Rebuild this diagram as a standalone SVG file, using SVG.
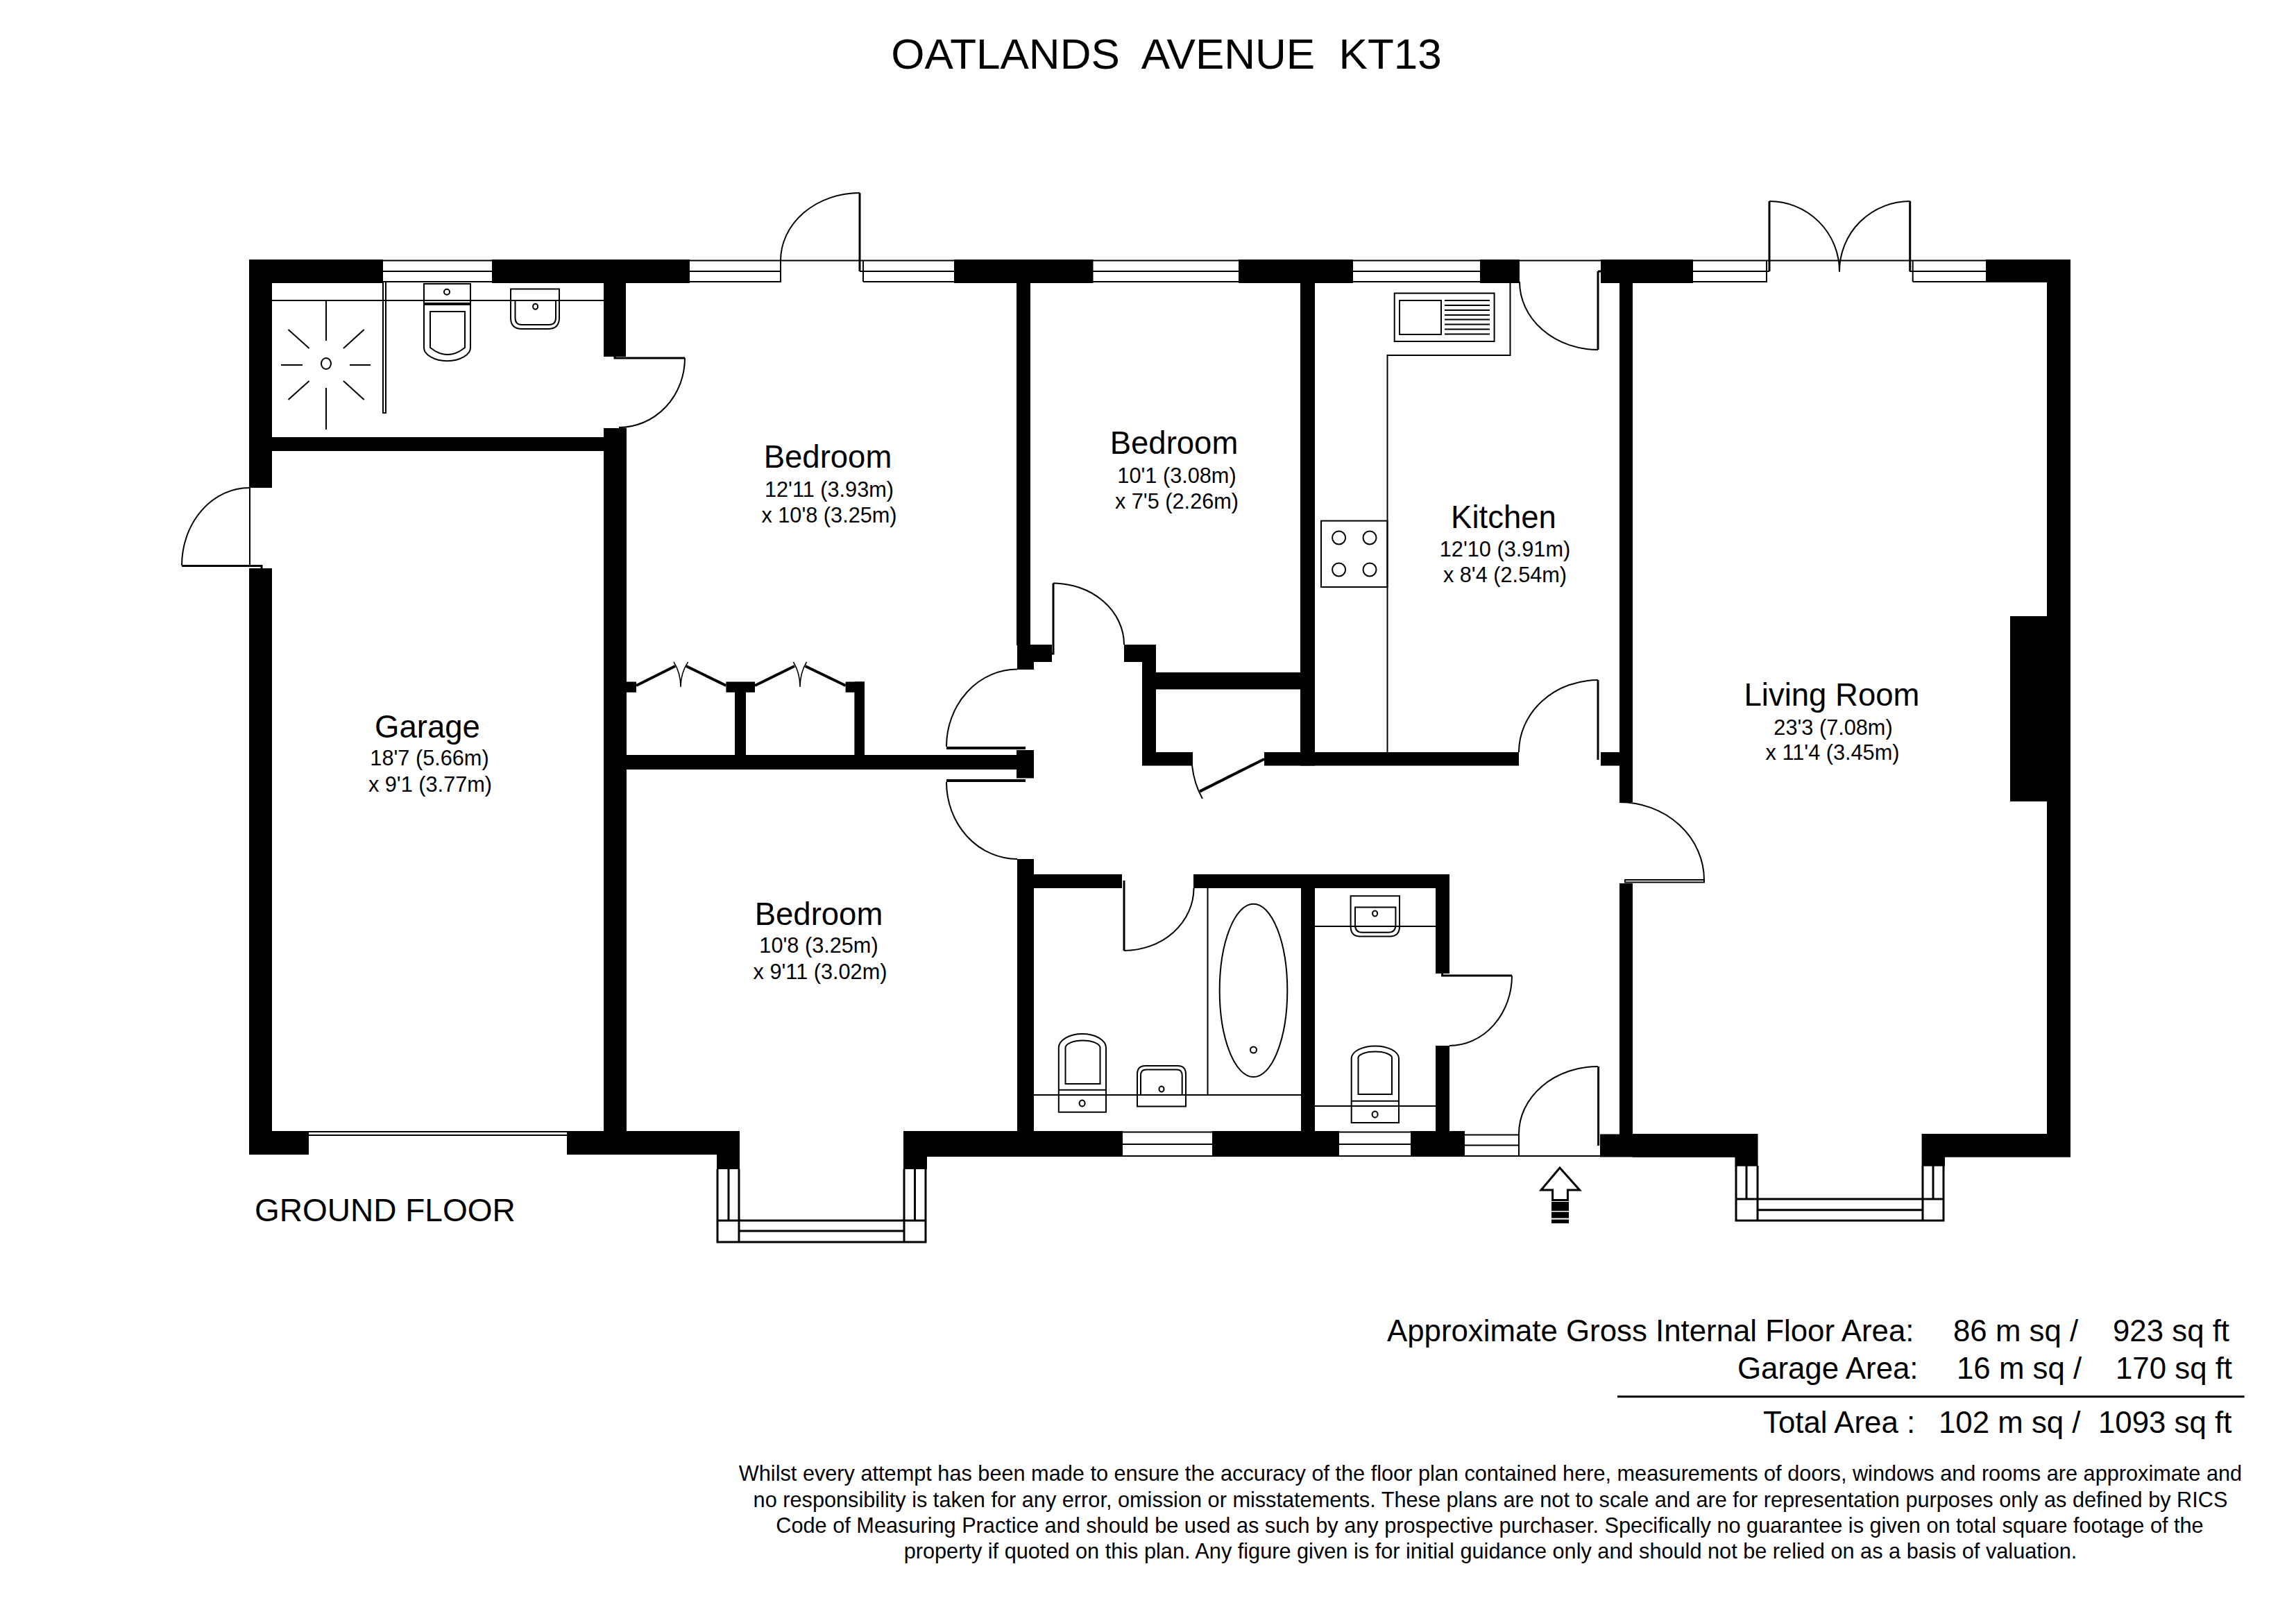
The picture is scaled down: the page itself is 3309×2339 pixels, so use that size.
<svg xmlns="http://www.w3.org/2000/svg" width="3309" height="2339" viewBox="0 0 3309 2339">
<style>
text{font-family:"Liberation Sans",Arial,sans-serif;fill:#000;white-space:pre}
.t{font-size:62px;text-anchor:middle}
.n{font-size:45.500px;text-anchor:middle}
.d{font-size:30.700px;text-anchor:middle}
.a{font-size:43.800px;text-anchor:start}
.g{font-size:46px;text-anchor:start}
.f{font-size:30.700px;text-anchor:middle}
.w{fill:#000}
.l,.m,.k,.h{fill:none;stroke:#000}
.l{stroke-width:2}
.m{stroke-width:3}
.k{stroke-width:4}
.h{stroke-width:1.5}
</style>
<rect width="3309" height="2339" fill="#fff"/>
<g id="walls" class="w">
<rect x="359" y="374" width="193" height="34"/>
<rect x="709" y="374" width="285" height="34"/>
<rect x="1375" y="374" width="200.500" height="34"/>
<rect x="1785" y="374" width="165" height="34"/>
<rect x="2133" y="374" width="57" height="34"/>
<rect x="2307" y="374" width="133" height="34"/>
<rect x="2862" y="374" width="122" height="33"/>
<rect x="359" y="374" width="33" height="329"/>
<rect x="359" y="819" width="33" height="845"/>
<rect x="870" y="374" width="32" height="140"/>
<rect x="870" y="617" width="33" height="1047"/>
<rect x="392" y="630" width="478" height="20"/>
<rect x="1465" y="374" width="20" height="556"/>
<rect x="1466" y="929" width="24" height="36"/>
<rect x="1485" y="929" width="31" height="25"/>
<rect x="1620" y="929" width="46" height="25"/>
<rect x="1646" y="929" width="20" height="174"/>
<rect x="1646" y="1084" width="73" height="19.500"/>
<rect x="1666" y="969" width="229" height="24.500"/>
<rect x="1874" y="374" width="21" height="729.500"/>
<rect x="1822" y="1084" width="367" height="19.500"/>
<rect x="2307" y="1084" width="27" height="19.500"/>
<rect x="2334" y="374" width="19" height="782"/>
<rect x="2334" y="1273" width="19" height="394"/>
<rect x="903" y="1088" width="563" height="21"/>
<rect x="1465" y="1081" width="25" height="40.500"/>
<rect x="903" y="982.500" width="14" height="15.300"/>
<rect x="1046.400" y="982.500" width="41.600" height="15.300"/>
<rect x="1059" y="997" width="16" height="92"/>
<rect x="1218.600" y="982.500" width="27.400" height="15.300"/>
<rect x="1231.400" y="982.500" width="14.600" height="106"/>
<rect x="1466" y="1238" width="24" height="393"/>
<rect x="1490" y="1260" width="127" height="20"/>
<rect x="1720" y="1260" width="369" height="20"/>
<rect x="1875" y="1280" width="20" height="351"/>
<rect x="2069" y="1280" width="20" height="123"/>
<rect x="2069" y="1507" width="20" height="128"/>
<rect x="359" y="1630" width="86" height="34"/>
<rect x="817" y="1630" width="249" height="34"/>
<rect x="1033" y="1664" width="33" height="21"/>
<rect x="1302" y="1630" width="316" height="37"/>
<rect x="1302" y="1666" width="34" height="19"/>
<rect x="1747" y="1630" width="183" height="37"/>
<rect x="2033" y="1630" width="78" height="37"/>
<rect x="2089" y="1634.500" width="22" height="32"/>
<rect x="2306" y="1634.500" width="194" height="33"/>
<rect x="2353" y="1634" width="180.500" height="33.700"/>
<rect x="2500.400" y="1667" width="33.100" height="13.700"/>
<rect x="2769.600" y="1634" width="214.400" height="33.700"/>
<rect x="2769.600" y="1667" width="33.400" height="13.700"/>
<rect x="2950" y="374" width="34" height="1293"/>
<rect x="2897" y="888" width="53" height="267"/>
</g>
<g id="windows" class="l">
<path d="M552 375.500H709M552 391H709M552 406H709"/>
<path d="M994 375.500H1375M994 391H1125M994 406H1125V375.500M1239 391H1375M1244 406H1375M1244 406V375.500"/>
<path d="M1575 375.500H1785M1575 391H1785M1575 406H1785"/>
<path d="M1950 375.500H2133M1950 391H2133M1950 406H2133"/>
<path d="M2190 375.500H2307"/>
<path d="M2440 375.500H2862M2440 391H2550M2440 406H2546V375.500M2752 391H2862M2756.700 406H2862M2756.700 406V375.500"/>
<path d="M1618 1631.500H1747M1618 1649H1747M1618 1666H1747"/>
<path d="M1930 1631.500H2033M1930 1649H2033M1930 1666H2033"/>
<path d="M2111 1635.500H2189M2111 1650.500H2189M2111 1666H2306M2189 1634V1666"/>
<path d="M445 1631H817M445 1636H817"/>
</g>
<g id="bays" class="l">
<path class="m" d="M1034 1685V1790H1334V1685M1065 1685V1790M1303 1685V1790M1050 1685V1759M1318.500 1685V1759M1034 1759H1334M1065 1774H1303"/>
<path class="m" d="M2502 1680V1759H2801V1680M2533 1680V1759M2771 1680V1759M2517 1680V1728M2786 1680V1728M2502 1728H2801M2533 1743.700H2771"/>
</g>
<g id="doors" class="l">
<path d="M987 516A95 100 0 0 1 892 616"/>
<path class="m" d="M886 513V516H987"/>
<path d="M262 815A97 112 0 0 1 359 703"/>
<path d="M360 703V816"/>
<path class="m" d="M262 815.500H377V819"/>
<path d="M1125 375.500A114 97.500 0 0 1 1239 278"/>
<path class="m" d="M1239 278V391"/>
<path d="M2190 406A113 98 0 0 0 2303 504"/>
<path class="m" d="M2303 391H2307M2303 391V504"/>
<path class="m" d="M2550 290V391"/>
<path d="M2550 290A101 101 0 0 1 2651 391V391.700"/>
<path d="M2752.700 290A101.700 101 0 0 0 2651 391"/>
<path class="m" d="M2752.700 290V391"/>
<path d="M1518 840.600A102 88.400 0 0 1 1620 929"/>
<path class="m" d="M1518 840.600V942H1514"/>
<path d="M1466 964.600A102 111.400 0 0 0 1364 1076"/>
<path class="k" d="M1364 1078H1478"/>
<path d="M1364 1127A102 111 0 0 0 1466 1238"/>
<path class="k" d="M1364 1125H1478"/>
<path d="M1718 1103Q1721 1130 1733 1151"/>
<path class="k" d="M1729 1140.600L1822 1094"/>
<path d="M1620 1370A100.500 90 0 0 0 1720.500 1280"/>
<path class="m" d="M1620 1269V1370"/>
<path d="M2303 980A114 104 0 0 0 2189 1084"/>
<path class="m" d="M2303 980V1095"/>
<path d="M2334 1156A122 112 0 0 1 2456 1268"/>
<path d="M2342 1268H2456V1271.500H2342Z"/>
<path d="M2179 1406A90 101 0 0 1 2089 1507"/>
<path class="m" d="M2078.600 1403V1406H2179"/>
<path d="M2189 1634A114 97 0 0 1 2303 1537"/>
<path class="m" d="M2303.600 1537V1651"/>
<path class="k" d="M917 988L973 960M989 960L1046.400 988M1088 988L1145 960M1160.600 960L1218.600 988"/>
<path class="h" d="M971 954Q981 970 981 990Q981 970 991.600 954M1143.400 954Q1153 970 1153 990Q1153 970 1162.500 954"/>
</g>
<g id="shower-room" class="l">
<path d="M392 433H870"/>
<path d="M552 406H556V595H552Z"/>
<ellipse cx="470" cy="524" rx="7" ry="8"/>
<path d="M470 433V491M470 559V619M405 526H436M504 526H534M415.500 475L445.600 502M524.700 475L495 502M415.500 576L445.600 549M524.700 576L495 549"/>
<path d="M611 409H678V500.700A33.500 19.500 0 0 1 611 500.700ZM611 439H678M611 437H678"/>
<path d="M620 449H670V501Q645 521 620 501Z"/>
<circle cx="644" cy="420.700" r="4"/>
<path d="M736 416.500H806V458Q806 474 790 474H752Q736 474 736 458Z"/>
<path d="M742.500 433V458Q742.500 468 752 468H791Q801 468 801 458V433"/>
<ellipse cx="771.600" cy="441.700" rx="3.500" ry="4"/>
</g>
<g id="kitchen" class="l">
<path d="M2176.500 408V512H1999.500V1084"/>
<rect x="2009.700" y="422.600" width="143.900" height="69.400"/>
<rect x="2017" y="433" width="60" height="49"/>
<path d="M2082 433H2147M2082 440H2147M2082 447H2147M2082 454H2147M2082 460.500H2147M2082 467.400H2147M2082 474.600H2147M2082 481.500H2147"/>
<rect x="1904" y="750.600" width="95.500" height="95.400"/>
<ellipse cx="1929.600" cy="775" rx="9.500" ry="9.500"/>
<ellipse cx="1974" cy="775" rx="9.500" ry="9.500"/>
<ellipse cx="1929.600" cy="821" rx="9.500" ry="9.500"/>
<ellipse cx="1974" cy="821" rx="9.500" ry="9.500"/>
</g>
<g id="bathroom" class="l">
<path d="M1490 1578H1875M1740.500 1280V1578"/>
<ellipse cx="1806.500" cy="1427.400" rx="48.800" ry="124.700"/>
<ellipse cx="1806.500" cy="1513" rx="4.500" ry="4.500"/>
<path d="M1525.800 1602.800V1510A34.100 20 0 0 1 1594 1510V1602.800ZM1525.800 1570.700H1594"/>
<path d="M1535.500 1562V1510A25 10.500 0 0 1 1585.500 1510V1562Z"/>
<ellipse cx="1559.600" cy="1590" rx="4" ry="4.500"/>
<path d="M1639 1594.400V1548Q1639 1536 1651 1536H1697Q1709 1536 1709 1548V1594.400Z"/>
<path d="M1644 1578V1550Q1644 1541.600 1652 1541.600H1696Q1703.700 1541.600 1703.700 1550V1578"/>
<ellipse cx="1674" cy="1569.600" rx="3.500" ry="4"/>
</g>
<g id="wc" class="l">
<path d="M1895 1335H2069M1895 1594H2069"/>
<path d="M1946.600 1291.300H2017V1335Q2017 1349.500 2003 1349.500H1960Q1946.600 1349.500 1946.600 1335Z"/>
<path d="M1953 1307.400H2011.400V1333Q2011.400 1343.800 2001 1343.800H1963Q1953 1343.800 1953 1333Z"/>
<ellipse cx="1981.600" cy="1316.600" rx="3.500" ry="4"/>
<path d="M1947.700 1618V1524.800A34.200 18.400 0 0 1 2016 1524.800V1618ZM1947.700 1586.800H2016"/>
<path d="M1957.500 1577V1524A24.300 9 0 0 1 2006 1524V1577Z"/>
<ellipse cx="1981.600" cy="1606" rx="4" ry="4.500"/>
</g>
<g id="entry-arrow">
<path class="m" d="M2248 1683L2221 1715H2237.600V1729.500H2259.400V1715H2276.600Z"/>
<rect x="2236" y="1732" width="25" height="13"/>
<rect x="2236" y="1746.500" width="25" height="9"/>
<rect x="2236" y="1757.500" width="25" height="5.500"/>
</g>
<g id="labels">
<text class="t" x="1681" y="99">OATLANDS  AVENUE  KT13</text>
<g id="garage"><text class="n" x="616" y="1063">Garage</text><text class="d" x="619" y="1103">18'7 (5.66m)</text><text class="d" x="620" y="1141">x 9'1 (3.77m)</text></g>
<g id="bedroom-1"><text class="n" x="1193" y="674">Bedroom</text><text class="d" x="1195" y="716">12'11 (3.93m)</text><text class="d" x="1195" y="753">x 10'8 (3.25m)</text></g>
<g id="bedroom-2"><text class="n" x="1692" y="654">Bedroom</text><text class="d" x="1696" y="696">10'1 (3.08m)</text><text class="d" x="1696" y="733">x 7'5 (2.26m)</text></g>
<g id="bedroom-3"><text class="n" x="1180" y="1333">Bedroom</text><text class="d" x="1180" y="1373">10'8 (3.25m)</text><text class="d" x="1182" y="1411">x 9'11 (3.02m)</text></g>
<g id="kitchen-label"><text class="n" x="2167" y="761">Kitchen</text><text class="d" x="2169" y="802">12'10 (3.91m)</text><text class="d" x="2169" y="839">x 8'4 (2.54m)</text></g>
<g id="living"><text class="n" x="2640" y="1017">Living Room</text><text class="d" x="2642" y="1059">23'3 (7.08m)</text><text class="d" x="2641" y="1095">x 11'4 (3.45m)</text></g>
<text class="g" x="367" y="1760">GROUND FLOOR</text>
<text class="a" x="1999" y="1933">Approximate Gross Internal Floor Area:</text>
<text class="a" x="2815" y="1933">86 m sq /</text>
<text class="a" x="3045" y="1933">923 sq ft</text>
<text class="a" x="2504" y="1987">Garage Area:</text>
<text class="a" x="2820" y="1987">16 m sq /</text>
<text class="a" x="3049" y="1987">170 sq ft</text>
<path class="m" d="M2331 2012.700H3234.600"/>
<text class="a" x="2541" y="2065">Total Area :</text>
<text class="a" x="2794" y="2065">102 m sq /</text>
<text class="a" x="3024" y="2065">1093 sq ft</text>
<text class="f" x="2148" y="2134">Whilst every attempt has been made to ensure the accuracy of the floor plan contained here, measurements of doors, windows and rooms are approximate and</text>
<text class="f" x="2148" y="2172">no responsibility is taken for any error, omission or misstatements. These plans are not to scale and are for representation purposes only as defined by RICS</text>
<text class="f" x="2147" y="2209">Code of Measuring Practice and should be used as such by any prospective purchaser. Specifically no guarantee is given on total square footage of the</text>
<text class="f" x="2148" y="2246">property if quoted on this plan. Any figure given is for initial guidance only and should not be relied on as a basis of valuation.</text>
</g>
</svg>
